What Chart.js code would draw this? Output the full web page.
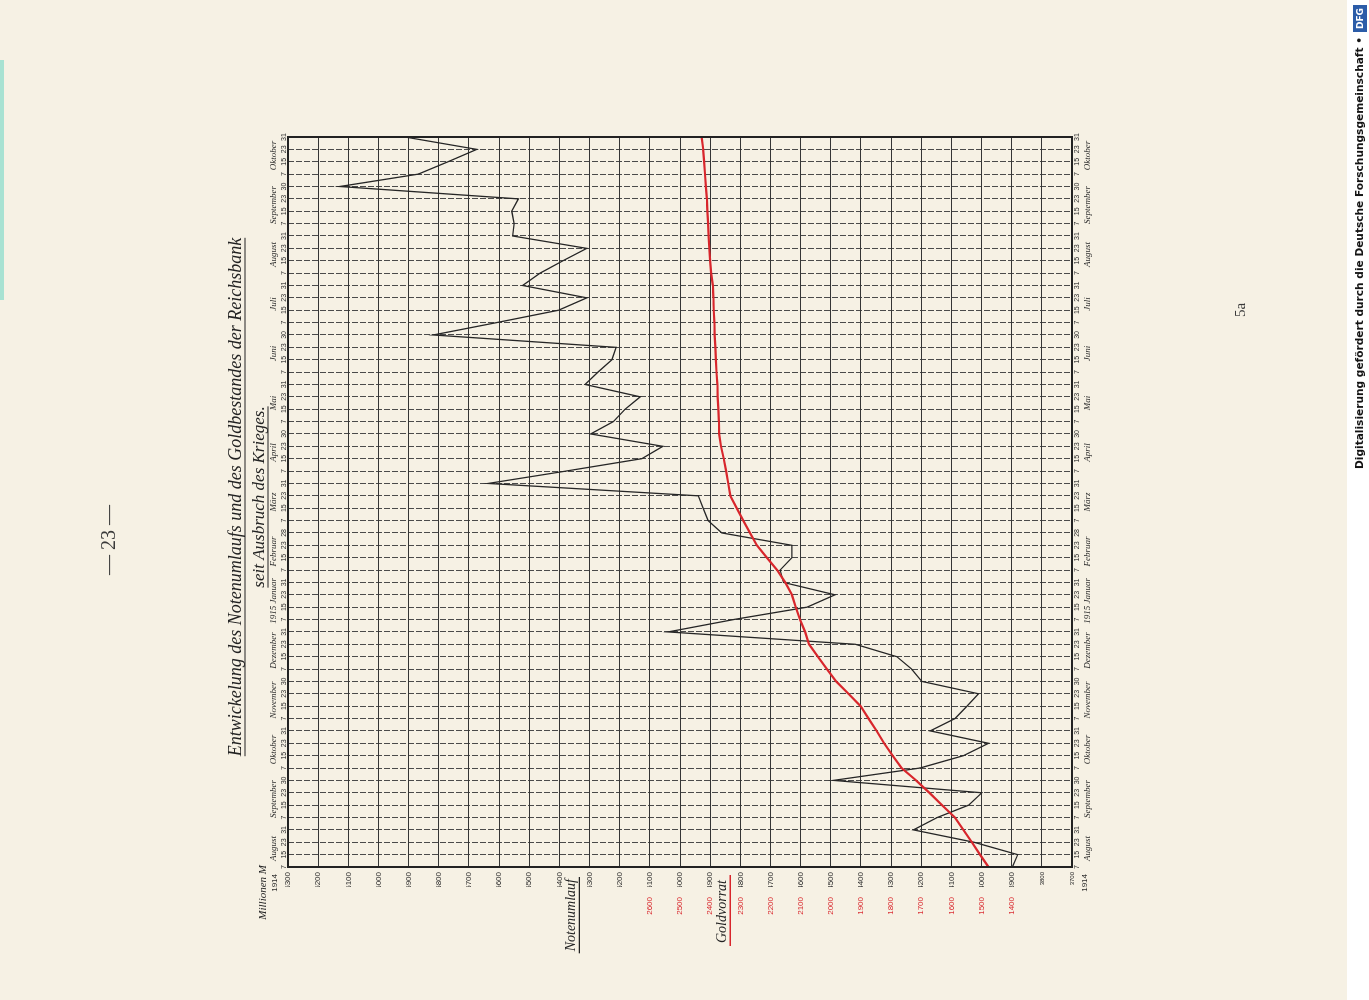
<!DOCTYPE html>
<html lang="de">
<head>
<meta charset="utf-8">
<title>Entwickelung des Notenumlaufs und des Goldbestandes der Reichsbank</title>
<script src="https://cdn.jsdelivr.net/npm/chart.js@4.4.1/dist/chart.umd.min.js"></script>
<style>
  html, body { margin: 0; padding: 0; }
  body { width: 1369px; height: 1000px; overflow: hidden; background: #f6f1e4; position: relative; }
  /* the scanned page is turned a quarter to the left, so the whole sheet is drawn upright and rotated */
  #sheet { position: absolute; left: 0; top: 0; width: 1000px; height: 1369px;
           transform-origin: 0 0; transform: translate(0px, 1000px) rotate(-90deg); }
  #sheet canvas { position: absolute; left: 0; top: 0; }
  .pg { position: absolute; font-family: 'Liberation Serif', serif; color: #3a3a3a; text-align: center; white-space: nowrap; }
  #strip { position: absolute; left: 0; top: 1347px; width: 1000px; height: 22px; background: #ffffff; }
  #edge { position: absolute; left: 700px; top: 0; width: 240px; height: 4px; background: #a8e2d2; }
  #dfg { position: absolute; left: 531px; top: 1353px; height: 14px; line-height: 14px; white-space: nowrap;
         font: bold 10.6px 'DejaVu Sans', sans-serif; color: #151515; }
  #dfg span { display: inline-block; margin-left: 5px; padding: 0 3px; background: #2b5ca8; color: #fff;
              font-size: 9px; line-height: 14px; vertical-align: top; }
</style>
</head>
<body>
<div id="sheet">
  <canvas id="chart" width="1000" height="1369" style="width:1000px;height:1369px"></canvas>
  <div class="pg" style="left:360px;top:97px;width:200px;font-size:20px;">— 23 —</div>
  <div class="pg" style="left:640px;top:1232px;width:100px;font-size:15px;">5a</div>
  <div id="strip"></div>
  <div id="edge"></div>
  <div id="dfg">Digitalisierung gefördert durch die Deutsche Forschungsgemeinschaft •<span>DFG</span></div>
</div>
<script>
// Ausweistage der Reichsbank, 7. August 1914 bis 31. Oktober 1915
const months = ['August', 'September', 'Oktober', 'November', 'Dezember', '1915 Januar', 'Februar',
                'März', 'April', 'Mai', 'Juni', 'Juli', 'August', 'September', 'Oktober'];
const lastDays = [31, 30, 31, 30, 31, 31, 28, 31, 30, 31, 30, 31, 31, 30, 31];
const dayLabels = [];
lastDays.forEach(d => dayLabels.push('7', '15', '23', String(d)));

// Millionen Mark
const notenumlauf = [3898, 3880, 4025, 4226, 4147, 4043, 3999, 4491, 4204, 4060, 3977, 4170,
                     4088, 4048, 4010, 4198, 4232, 4281, 4418, 5039, 4822, 4579, 4486, 4657,
                     4668, 4629, 4629, 4861, 4907, 4923, 4939, 5636, 5378, 5127, 5057, 5296,
                     5221, 5182, 5132, 5315, 5272, 5226, 5212, 5818, 5608, 5403, 5309, 5522,
                     5464, 5388, 5309, 5555, 5550, 5558, 5536, 6128, 5868, 5769, 5674, 5912];
const goldvorrat = [1477, 1505, 1532, 1560, 1588, 1631, 1673, 1717, 1765, 1795, 1823, 1848,
                    1875, 1901, 1941, 1982, 2013, 2043, 2072, 2085, 2102, 2116, 2129, 2151,
                    2178, 2212, 2245, 2268, 2290, 2312, 2333, 2340, 2347, 2355, 2364, 2370,
                    2371, 2373, 2375, 2376, 2379, 2381, 2383, 2385, 2386, 2388, 2389, 2391,
                    2397, 2400, 2403, 2405, 2407, 2409, 2411, 2414, 2417, 2420, 2423, 2428];
const goldTicks = [1400, 1500, 1600, 1700, 1800, 1900, 2000, 2100, 2200, 2300, 2400, 2500, 2600];

const ink = '#2b2b2b';
const red = '#d8262c';
const dayFont = { family: "'Liberation Sans', sans-serif", size: 7 };
const monthFont = { family: "'Liberation Serif', serif", style: 'italic', size: 9 };
const numFont = { family: "'Liberation Sans', sans-serif", size: 8 };
const noGrid = { display: false, drawTicks: false, tickLength: 0 };

const decorations = {
  id: 'decorations',
  afterDatasetsDraw(chart) {
    const { ctx, chartArea: a } = chart;
    ctx.save();
    ctx.strokeStyle = '#222';
    ctx.lineWidth = 2;
    ctx.strokeRect(a.left, a.top, a.right - a.left, a.bottom - a.top);
    ctx.restore();
  },
  afterDraw(chart) {
    const { ctx, chartArea: a } = chart;
    const y = chart.scales.y;
    const cx = (a.left + a.right) / 2 + 5;
    const line = (x1, x2, yy, color, w) => {
      ctx.beginPath(); ctx.strokeStyle = color; ctx.lineWidth = w;
      ctx.moveTo(x1, yy); ctx.lineTo(x2, yy); ctx.stroke();
    };
    ctx.save();
    ctx.fillStyle = '#222';
    ctx.textAlign = 'center';
    ctx.textBaseline = 'middle';

    const title = 'Entwickelung des Notenumlaufs und des Goldbestandes der Reichsbank';
    ctx.font = "italic 18px 'Liberation Serif'";
    ctx.fillText(title, cx, a.top - 52);
    let w = ctx.measureText(title).width;
    line(cx - w / 2, cx + w / 2, a.top - 43, '#222', 1.2);

    const sub = 'seit Ausbruch des Krieges.';
    ctx.font = "italic 17px 'Liberation Serif'";
    ctx.fillText(sub, cx, a.top - 28);
    w = ctx.measureText(sub).width;
    line(cx - w / 2, cx + w / 2, a.top - 20, '#222', 1.2);

    ctx.textAlign = 'right';
    ctx.font = "italic 11px 'Liberation Serif'";
    ctx.fillText('Millionen M', a.left + 2, a.top - 25);
    ctx.font = "8px 'Liberation Sans'";
    ctx.fillText('1914', a.left - 7, a.top - 13);
    ctx.fillText('1914', a.left - 7, a.bottom + 13);

    ctx.font = "italic 14px 'Liberation Serif'";
    const yN = y.getPixelForValue(5360);
    ctx.fillText('Notenumlauf', a.left - 12, yN);
    w = ctx.measureText('Notenumlauf').width;
    line(a.left - 14 - w, a.left - 10, yN + 8, '#222', 1.3);

    const yG = y.getPixelForValue(4860);
    ctx.fillText('Goldvorrat', a.left - 13, yG);
    w = ctx.measureText('Goldvorrat').width;
    line(a.left - 16 - w, a.left - 8, yG + 8, red, 1.6);
    ctx.restore();
  }
};

new Chart(document.getElementById('chart'), {
  type: 'line',
  data: {
    labels: dayLabels,
    datasets: [
      {
        label: 'Goldvorrat',
        data: goldvorrat,
        yAxisID: 'yGold',
        borderColor: red,
        borderWidth: 2.2,
        pointRadius: 0,
        tension: 0,
        order: 0
      },
      {
        label: 'Notenumlauf',
        data: notenumlauf,
        yAxisID: 'y',
        borderColor: '#262626',
        borderWidth: 1.3,
        pointRadius: 0,
        tension: 0,
        order: 1
      }
    ]
  },
  options: {
    responsive: false,
    animation: false,
    devicePixelRatio: 1,
    layout: { padding: { left: 78, right: 137, top: 268, bottom: 274 } },
    plugins: {
      legend: { display: false },
      tooltip: { enabled: false },
      title: { display: false }
    },
    scales: {
      x: {
        type: 'category',
        position: 'bottom',
        weight: 1,
        grid: { color: '#4a4a4a', lineWidth: 1, drawTicks: false, tickLength: 0 },
        border: { display: false, dash: [6, 2] },
        ticks: { autoSkip: false, maxRotation: 0, minRotation: 0, padding: 1, font: dayFont, color: ink },
        afterFit: s => { s.height = 9; }
      },
      xMonths: {
        type: 'linear',
        position: 'bottom',
        weight: 2,
        min: 0,
        max: dayLabels.length - 1,
        grid: noGrid,
        border: { display: false },
        afterBuildTicks: s => { s.ticks = months.map((m, k) => ({ value: 4 * k + 1.5 })); },
        ticks: { autoSkip: false, maxRotation: 0, minRotation: 0, padding: 1, font: monthFont, color: ink,
                 callback: (v, i) => months[i] },
        afterFit: s => { s.height = 14; }
      },
      xTop: {
        type: 'category',
        position: 'top',
        weight: 1,
        grid: noGrid,
        border: { display: false },
        ticks: { autoSkip: false, maxRotation: 0, minRotation: 0, padding: 0, font: dayFont, color: ink },
        afterFit: s => { s.height = 9; }
      },
      xTopMonths: {
        type: 'linear',
        position: 'top',
        weight: 2,
        min: 0,
        max: dayLabels.length - 1,
        grid: noGrid,
        border: { display: false },
        afterBuildTicks: s => { s.ticks = months.map((m, k) => ({ value: 4 * k + 1.5 })); },
        ticks: { autoSkip: false, maxRotation: 0, minRotation: 0, padding: 0, font: monthFont, color: ink,
                 callback: (v, i) => months[i] },
        afterFit: s => { s.height = 11; }
      },
      y: {
        type: 'linear',
        position: 'left',
        weight: 1,
        min: 3700,
        max: 6300,
        grid: { color: '#353535', lineWidth: 1, drawTicks: false, tickLength: 0 },
        border: { display: false },
        ticks: {
          stepSize: 100, padding: 5, color: ink,
          font: c => (c.tick && c.tick.value < 3850) ? { family: numFont.family, size: 6 } : numFont,
          callback: v => String(Math.round(v))
        },
        afterFit: s => { s.width = 20; }
      },
      yGold: {
        type: 'linear',
        position: 'left',
        weight: 2,
        min: 1200,
        max: 3800,
        grid: noGrid,
        border: { display: false },
        ticks: {
          stepSize: 100, padding: 10, color: red, font: numFont,
          callback: v => goldTicks.includes(Math.round(v)) ? String(Math.round(v)) : ''
        },
        afterFit: s => { s.width = 35; }
      }
    }
  },
  plugins: [decorations]
});
</script>
</body>
</html>
